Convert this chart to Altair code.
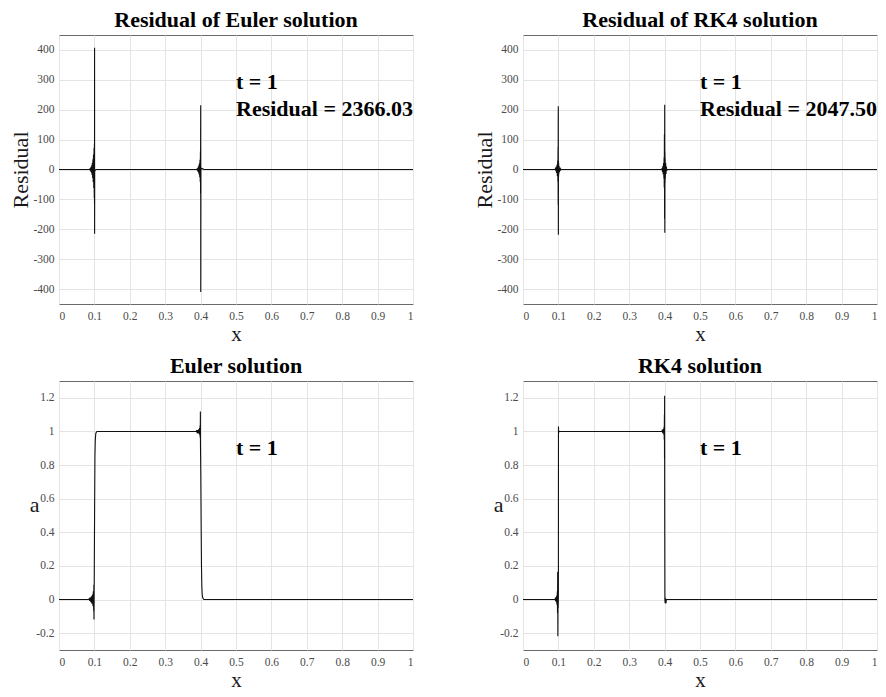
import altair as alt
import pandas as pd

FONT = "Liberation Serif"

# ---------------- data ----------------
x_ticks = [0, 0.1, 0.2, 0.3, 0.4, 0.5, 0.6, 0.7, 0.8, 0.9, 1]
res_ticks = [-400, -300, -200, -100, 0, 100, 200, 300, 400]
sol_ticks = [-0.2, 0, 0.2, 0.4, 0.6, 0.8, 1, 1.2]

# Residual of Euler solution
euler_res_x = [0.0, 0.086, 0.0878, 0.0886, 0.0894, 0.0902, 0.091, 0.0918, 0.0926, 0.0934,
               0.0942, 0.095, 0.0958, 0.0966, 0.0974, 0.0982, 0.099, 0.0996, 0.1, 0.1003,
               0.1005, 0.1006, 0.1009, 0.1015, 0.1025, 0.1034, 0.105,
               0.387, 0.3895, 0.3903, 0.3911, 0.3919, 0.3927, 0.3935, 0.3943, 0.3951,
               0.3959, 0.3967, 0.3975, 0.3983, 0.399, 0.3995, 0.3999, 0.4001, 0.4003,
               0.4004, 0.4008, 0.4015, 0.403, 0.406, 0.408, 0.41, 1.0]
euler_res_y = [0, 0, 3, -4, 6, -8, 9, -11, 14, -18,
               22, -28, 34, -42, 50, -62, 72, -95, 86, -115,
               407, -215, -6, -4, -3, -1, 0,
               0, 0, 3, -4, 5, -7, 9, -11, 14,
               -17, 21, -26, 33, -42, 60, -80, 116, 215,
               -410, 8, 4, 2, 3, 1, 0, 0]

# Residual of RK4 solution
rk4_res_x = [0.0, 0.09, 0.092, 0.093, 0.094, 0.095, 0.096, 0.097, 0.098, 0.0985, 0.099,
             0.0993, 0.0995, 0.0997, 0.0999, 0.1001, 0.1003, 0.1005, 0.1008, 0.101, 0.102,
             0.103, 0.104, 0.105, 0.106, 0.107, 0.108,
             0.39, 0.392, 0.393, 0.394, 0.395, 0.396, 0.397, 0.398, 0.3985, 0.399, 0.3995,
             0.4, 0.4003, 0.4006, 0.4009, 0.4012, 0.4015, 0.402, 0.403, 0.404, 0.405,
             0.406, 0.407, 1.0]
rk4_res_y = [0, 0, 4, -6, 9, -12, 16, -22, 30, -40, 75,
             -118, 165, 212, -218, -60, 28, -24, 20, -16, 12,
             -9, 6, -4, 2, -1, 0,
             0, 0, 5, -8, 12, -16, 22, -30, 40, -60, 118,
             -165, 217, -212, 60, -45, 38, -30, 22, -15, 10,
             -5, 0, 0]

# Euler solution
euler_sol_x = [0.0, 0.084, 0.0855, 0.087, 0.0885, 0.09, 0.0915, 0.093, 0.0945, 0.096,
               0.097, 0.098, 0.0985, 0.0988, 0.0995, 0.1005, 0.1015, 0.1025, 0.104, 0.107,
               0.11, 0.387, 0.3885, 0.39, 0.3915, 0.393, 0.3945, 0.396, 0.397, 0.398,
               0.3985, 0.399, 0.3994, 0.3997, 0.4005, 0.4015, 0.4025, 0.4035, 0.4045,
               0.406, 0.409, 1.0]
euler_sol_y = [0, 0, 0.005, -0.008, 0.012, -0.016, 0.02, -0.025, 0.03, -0.04,
               0.05, -0.07, 0.088, -0.118, 0.1, 0.5, 0.85, 0.95, 0.99, 1.0,
               1.0, 1.0, 1.004, 0.995, 1.008, 0.99, 1.012, 0.985, 1.02, 0.975,
               1.035, 0.96, 1.118, 0.912, 0.75, 0.45, 0.2, 0.08, 0.03,
               0.01, 0.0, 0.0]

# RK4 solution
rk4_sol_x = [0.0, 0.09, 0.091, 0.092, 0.093, 0.094, 0.095, 0.096, 0.097, 0.0975, 0.098,
             0.0985, 0.099, 0.0995, 0.1, 0.1002, 0.1006, 0.101, 0.1015, 0.102, 0.103,
             0.392, 0.393, 0.394, 0.395, 0.396, 0.397, 0.398, 0.3985, 0.399, 0.3995,
             0.3998, 0.4, 0.4003, 0.4008, 0.4015, 0.402, 0.403, 0.404, 0.405, 1.0]
rk4_sol_y = [0, 0, 0.005, -0.008, 0.012, -0.016, 0.022, -0.03, 0.05, -0.08, 0.165,
             -0.218, 0.1, -0.05, 0.03, 1.03, 0.99, 1.005, 0.998, 1.0, 1.0,
             1.0, 1.005, 0.993, 1.01, 0.988, 1.016, 0.98, 1.03, 0.95, 1.1,
             0.837, 1.213, 0.5, 0.0, -0.022, 0.01, -0.015, -0.022, 0.0, 0.0]

# annotations
euler_res_note = ["t = 1", "Residual = 2366.03"]
rk4_res_note = ["t = 1", "Residual = 2047.50"]
res_note_x = [0.5, 0.5]
res_note_y = [271, 179]
sol_note = ["t = 1"]
sol_note_x = [0.5]
sol_note_y = [0.86]

panel_titles = ["Residual of Euler solution", "Residual of RK4 solution",
                "Euler solution", "RK4 solution"]

# ---------------- chart ----------------
W, H = 354, 269

lab_expr = ("datum.value < 0 ? '-' + format(-datum.value, '~g') "
            ": format(datum.value, '~g')")


def make_axis(**kw):
    base = dict(
        grid=True, gridColor="#e4e4e4", gridWidth=1,
        domain=False, ticks=False,
        labelFont=FONT, labelFontSize=11.5, labelColor="#4a4a4a",
        labelOverlap=False, labelBound=False,
        titleFont=FONT, titleFontSize=22, titleFontWeight="normal", titleColor="#1a1a1a",
        labelExpr=lab_expr,
    )
    base.update(kw)
    return alt.Axis(**base)


def panel(xs, ys, title, ydomain, yticks, ytitle, top, notes, nx, ny):
    df = pd.DataFrame({"x": xs, "y": ys, "i": list(range(len(xs)))})
    xaxis = make_axis(values=x_ticks, title="x", labelPadding=6, titleFontSize=21,
                      titleY=36, titleBaseline="alphabetic")
    if top:
        yaxis = make_axis(values=yticks, title=ytitle, labelPadding=5,
                          titleAngle=270, titleX=-32, titleY=H / 2,
                          titleAlign="center", titleBaseline="alphabetic")
    else:
        yaxis = make_axis(values=yticks, title=ytitle, labelPadding=5,
                          titleAngle=0, titleX=-25, titleY=H / 2 - 4,
                          titleAlign="center", titleBaseline="alphabetic")
    xs_ = alt.Scale(domain=[0, 1], nice=False, zero=False)
    ys_ = alt.Scale(domain=ydomain, nice=False, zero=False)
    line = alt.Chart(df).mark_line(color="#111111", strokeWidth=1.1, clip=True).encode(
        x=alt.X("x:Q", scale=xs_, axis=xaxis),
        y=alt.Y("y:Q", scale=ys_, axis=yaxis),
        order=alt.Order("i:Q"),
    )
    ndf = pd.DataFrame({"x": nx, "y": ny, "t": notes})
    txt = alt.Chart(ndf).mark_text(
        align="left", baseline="alphabetic", font=FONT, fontSize=22,
        fontWeight="bold", color="#000000"
    ).encode(
        x=alt.X("x:Q", scale=xs_, axis=xaxis),
        y=alt.Y("y:Q", scale=ys_, axis=yaxis),
        text="t:N",
    )
    return alt.layer(line, txt).properties(
        width=W, height=H,
        title=alt.TitleParams(title, font=FONT, fontSize=22, fontWeight="bold",
                              color="#000000", anchor="middle", frame="group",
                              baseline="bottom", offset=4, dy=23),
    )


p1 = panel(euler_res_x, euler_res_y, panel_titles[0], [-450, 450], res_ticks,
           "Residual", True, euler_res_note, res_note_x, res_note_y)
p2 = panel(rk4_res_x, rk4_res_y, panel_titles[1], [-450, 450], res_ticks,
           "Residual", True, rk4_res_note, res_note_x, res_note_y)
p3 = panel(euler_sol_x, euler_sol_y, panel_titles[2], [-0.3, 1.3], sol_ticks,
           "a", False, sol_note, sol_note_x, sol_note_y)
p4 = panel(rk4_sol_x, rk4_sol_y, panel_titles[3], [-0.3, 1.3], sol_ticks,
           "a", False, sol_note, sol_note_x, sol_note_y)

chart = alt.concat(
    p1, p2, p3, p4, columns=2,
    spacing={"row": 77, "column": 110},
    bounds="flush",
).properties(padding=0).configure_view(
    stroke="#6a6a6a", strokeWidth=1
).configure_axis(labelFont=FONT, titleFont=FONT)

chart.save("out.html", embed_options={"renderer": "svg", "actions": False})
